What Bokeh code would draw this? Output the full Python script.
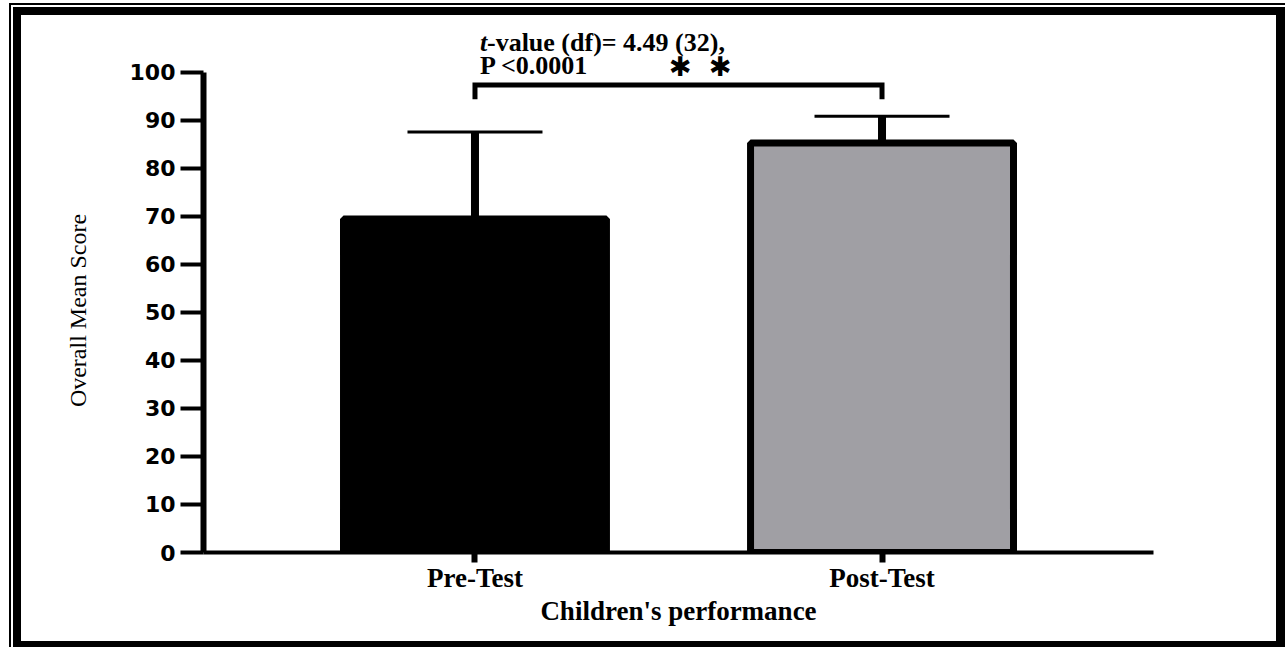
from bokeh.plotting import figure
from bokeh.models import (ColumnDataSource, FactorRange, Range1d, FixedTicker,
                          Whisker, TeeHead, Label)
from bokeh.embed import file_html
from bokeh.resources import INLINE

# ---- data ----
categories = ["Pre-Test", "Post-Test"]
means = [69.5, 85.3]
upper_err = [87.6, 90.9]
bar_colors = ["#000000", "#a09fa4"]
y_ticks = [0, 10, 20, 30, 40, 50, 60, 70, 80, 90, 100]
bracket_xs = ["Pre-Test", "Pre-Test", "Post-Test", "Post-Test"]
bracket_ys = [94.4, 97.4, 97.4, 94.4]
stat_t = "t"
stat_line1 = "-value (df)= 4.49 (32),"
stat_line2 = "P <0.0001"
stat_stars = ["\u2731", "\u2731"]
x_title = "Children's performance"
y_title = "Overall Mean Score"

src = ColumnDataSource(dict(cat=categories, mean=means, upper=upper_err, color=bar_colors))

W, H = 1285, 647
p = figure(x_range=FactorRange(*categories, range_padding=0.167, range_padding_units="absolute"),
           y_range=Range1d(0, 110.83), width=W, height=H,
           output_backend="svg", toolbar_location=None,
           min_border_left=203, min_border_right=132, min_border_top=20, min_border_bottom=95)
p.background_fill_color = None
p.border_fill_color = None
p.outline_line_color = None
p.xgrid.grid_line_color = None
p.ygrid.grid_line_color = None

# outer frame of the figure drawn as page background
bars_css = [
    "linear-gradient(#000,#000) 9px 3px / 1276px 2px no-repeat",
    "linear-gradient(#000,#000) 9px 3px / 2px 644px no-repeat",
    "linear-gradient(#000,#000) 13px 7px / 1272px 8px no-repeat",
    "linear-gradient(#000,#000) 13px 7px / 8px 640px no-repeat",
    "linear-gradient(#000,#000) 1276px 7px / 9px 640px no-repeat",
    "linear-gradient(#000,#000) 13px 641px / 1272px 6px no-repeat",
]
p.styles = {"background": ", ".join(bars_css) + ", #ffffff"}

p.vbar(x="cat", top="mean", bottom=0, width=0.646, fill_color="color",
       line_color="black", line_width=7, source=src)

whisk = Whisker(base="cat", upper="upper", lower="mean", source=src, dimension="height",
                line_width=8, line_color="black",
                upper_head=TeeHead(size=135, line_width=3, line_color="black"),
                lower_head=None)
p.add_layout(whisk)

p.line(bracket_xs, bracket_ys, line_width=5, line_color="black", line_join="miter")

serif = "Liberation Serif"
p.add_layout(Label(x=0.5, y=106.3, x_offset=5, text=stat_t, text_font=serif,
                   text_font_style="bold italic", text_font_size="26px", text_color="black",
                   text_baseline="alphabetic"))
p.add_layout(Label(x=0.5, y=106.3, x_offset=12, text=stat_line1, text_font=serif,
                   text_font_style="bold", text_font_size="26px", text_color="black",
                   text_baseline="alphabetic"))
p.add_layout(Label(x=0.5, y=101.5, x_offset=5, text=stat_line2, text_font=serif,
                   text_font_style="bold", text_font_size="26px", text_color="black",
                   text_baseline="alphabetic"))
for star, off in zip(stat_stars, [194, 234]):
    p.add_layout(Label(x=0.5, y=101.25, x_offset=off, text=star, text_font="DejaVu Sans",
                       text_font_style="bold", text_font_size="27px", text_color="black",
                       text_baseline="middle"))

# x axis
xa = p.xaxis[0]
xa.axis_line_width = 4
xa.axis_line_color = "black"
xa.major_tick_line_width = 6
xa.major_tick_out = 10
xa.major_tick_in = 0
xa.minor_tick_line_color = None
xa.major_label_text_font = serif
xa.major_label_text_font_style = "bold"
xa.major_label_text_font_size = "27px"
xa.major_label_text_color = "black"
xa.major_label_standoff = 0
xa.axis_label = x_title
xa.axis_label_text_font = serif
xa.axis_label_text_font_style = "bold"
xa.axis_label_text_font_size = "27px"
xa.axis_label_text_color = "black"
xa.axis_label_standoff = 0

# y axis
ya = p.yaxis[0]
ya.bounds = (0, 100)
ya.ticker = FixedTicker(ticks=y_ticks)
ya.axis_line_width = 6
ya.axis_line_color = "black"
ya.major_tick_line_width = 4
ya.major_tick_out = 23
ya.major_tick_in = 0
ya.minor_tick_line_color = None
ya.major_label_text_font = "DejaVu Sans"
ya.major_label_text_font_style = "bold"
ya.major_label_text_font_size = "22px"
ya.major_label_text_color = "black"
ya.major_label_standoff = 5
ya.axis_label = y_title + "\u00a0" * 8
ya.axis_label_text_font = serif
ya.axis_label_text_font_style = "normal"
ya.axis_label_text_font_size = "24px"
ya.axis_label_text_color = "black"
ya.axis_label_standoff = 36

open("out.html", "w").write(file_html(p, INLINE))
